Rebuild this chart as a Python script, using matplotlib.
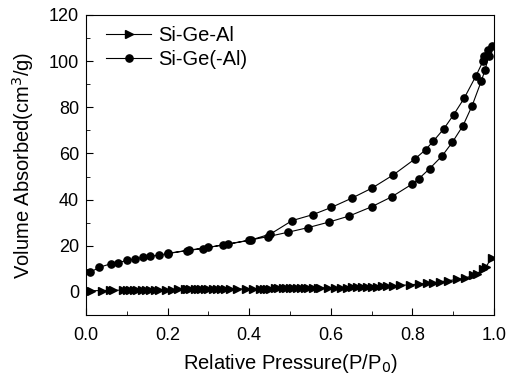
import numpy as np
import matplotlib.pyplot as plt
from matplotlib.ticker import MultipleLocator

plt.rcParams['font.family'] = ['Liberation Sans', 'DejaVu Sans']

# Si-Ge-Al (triangles)
p_al = [0.011, 0.038, 0.060, 0.067, 0.091, 0.100, 0.109, 0.118, 0.126, 0.136,
        0.147, 0.157, 0.169, 0.180, 0.196, 0.210, 0.226, 0.242, 0.248, 0.256,
        0.267, 0.275, 0.283, 0.291, 0.300, 0.310, 0.320, 0.332, 0.340, 0.353,
        0.369, 0.393, 0.410, 0.426, 0.436, 0.444, 0.452, 0.463, 0.471, 0.482,
        0.491, 0.500, 0.508, 0.518, 0.526, 0.536, 0.544, 0.557, 0.569, 0.574,
        0.594, 0.610, 0.626, 0.639, 0.651, 0.663, 0.676, 0.688, 0.700, 0.713,
        0.725, 0.737, 0.753, 0.770, 0.794, 0.815, 0.835, 0.851, 0.868, 0.888,
        0.909, 0.929, 0.949, 0.957, 0.974, 0.980, 0.994]
v_al = [0.5, 0.6, 0.7, 0.7, 0.8, 0.8, 0.8, 0.9, 0.9, 0.9,
        0.9, 1.0, 1.0, 1.0, 1.0, 1.0, 1.1, 1.1, 1.1, 1.1,
        1.1, 1.1, 1.2, 1.2, 1.2, 1.2, 1.2, 1.2, 1.3, 1.3,
        1.3, 1.3, 1.4, 1.4, 1.4, 1.4, 1.4, 1.5, 1.5, 1.5,
        1.5, 1.5, 1.6, 1.6, 1.6, 1.6, 1.6, 1.7, 1.7, 1.7,
        1.8, 1.8, 1.9, 1.9, 2.0, 2.0, 2.1, 2.1, 2.2, 2.3,
        2.4, 2.5, 2.6, 2.8, 3.1, 3.4, 3.7, 4.0, 4.4, 4.9,
        5.4, 6.0, 7.2, 7.8, 9.8, 10.8, 14.8]

# Si-Ge(-Al) (circles), adsorption then desorption
p_ads = [0.010, 0.033, 0.061, 0.078, 0.100, 0.120, 0.140, 0.158, 0.179, 0.200,
         0.247, 0.287, 0.335, 0.400, 0.447, 0.496, 0.545, 0.596, 0.645, 0.700,
         0.749, 0.798, 0.816, 0.842, 0.873, 0.898, 0.924, 0.946, 0.969, 0.978,
         0.987, 0.995]
v_ads = [8.5, 10.7, 12.2, 12.6, 13.7, 14.3, 15.0, 15.4, 16.0, 16.6,
         17.9, 18.8, 20.4, 22.4, 24.0, 25.9, 27.9, 30.3, 32.9, 36.9,
         41.2, 46.6, 49.1, 53.4, 59.0, 64.9, 72.1, 80.6, 91.5, 96.3,
         102.2, 106.5]
p_des = [0.985, 0.976, 0.973, 0.955, 0.927, 0.901, 0.877, 0.851, 0.832, 0.806,
         0.753, 0.701, 0.651, 0.601, 0.556, 0.505, 0.452, 0.404, 0.349, 0.299,
         0.252, 0.200]
v_des = [104.9, 102.2, 100.0, 93.4, 84.0, 76.8, 70.7, 65.3, 61.6, 57.6,
         50.7, 45.0, 40.6, 36.6, 33.5, 30.9, 25.1, 22.5, 20.7, 19.3,
         18.1, 16.7]

p_ge = p_ads + p_des
v_ge = v_ads + v_des

fig = plt.figure(figsize=(5.12, 3.83), dpi=100)
ax = fig.add_axes([0.168, 0.1775, 0.797, 0.7835])

ax.plot(p_al, v_al, color='k', lw=0.8, marker='>', ms=5.5, label='Si-Ge-Al')
ax.plot(p_ge, v_ge, color='k', lw=0.8, marker='o', ms=5.2, label='Si-Ge(-Al)')

ax.set_xlim(0, 1.0)
ax.set_ylim(-10, 120)
ax.xaxis.set_minor_locator(MultipleLocator(0.1))
ax.yaxis.set_major_locator(MultipleLocator(20))
ax.yaxis.set_minor_locator(MultipleLocator(10))
ax.set_xticks(np.arange(0, 1.01, 0.2))
ax.set_xticklabels(['0.0', '0.2', '0.4', '0.6', '0.8', '1.0'])
ax.tick_params(which='both', direction='in', labelsize=13, top=False, right=False)
ax.tick_params(which='major', length=5)
ax.tick_params(which='minor', length=3)
ax.tick_params(axis='x', pad=8.5)
ax.tick_params(axis='y', pad=5)

ax.set_xlabel('Relative Pressure(P/P$_0$)', fontsize=14.5, labelpad=6)
ax.set_ylabel('Volume Absorbed(cm$^3$/g)', fontsize=14.5, labelpad=9)

ax.legend(loc='upper left', frameon=False, fontsize=14.5, handlelength=2.25,
          handletextpad=0.35, borderaxespad=0.6, labelspacing=0.25,
          bbox_to_anchor=(0.0, 1.03))

fig.savefig('out.png', dpi=100)
